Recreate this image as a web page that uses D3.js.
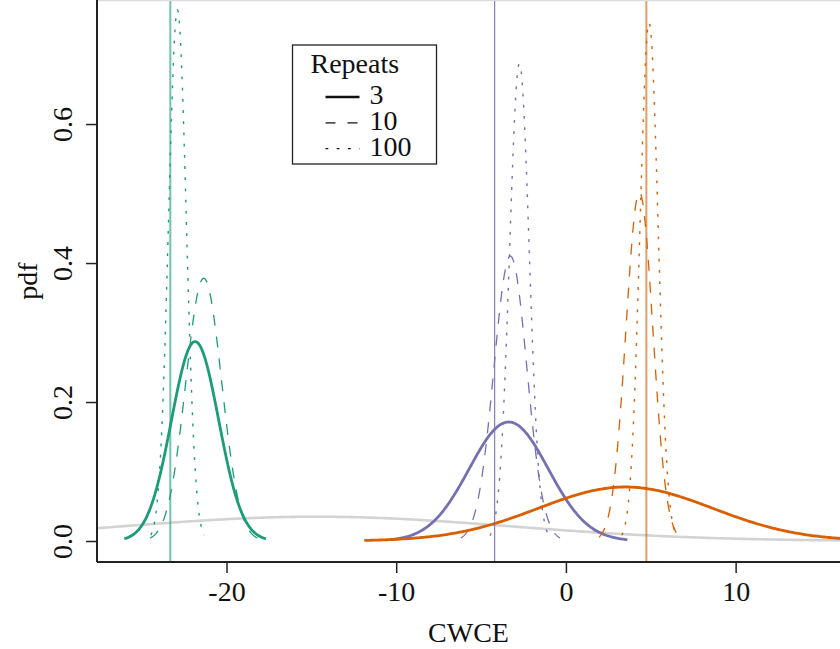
<!DOCTYPE html>
<html>
<head>
<meta charset="utf-8">
<script src="https://cdn.jsdelivr.net/npm/d3@7"></script>
<style>
	body { margin: 0; background: #fff; }
	svg text { font-family: "Liberation Serif", "Times New Roman", serif; fill: #111; }
</style>
</head>
<body>
<div id="graphic"></div>
<script>
// Dark2 colours for the three methods
const seriesColour = ["#1b9e77", "#7570b3", "#d95f02"];

// normal densities, one entry per colour
const means3 = [-21.85, -3.37, 3.51];
const sds3 = [1.39, 2.33, 5.13];
const means10 = [-21.34, -3.27, 4.33];
const sds10 = [1.055, 0.973, 0.795];
const means100 = [-22.89, -2.74, 4.90];
const sds100 = [0.522, 0.581, 0.535];

// vertical reference lines
const refLines = [-23.31, -4.20, 4.74];

// wide grey density
const greyMean = -14.7;
const greySd = 11.4;

const repeats = ["3", "10", "100"];
const xTicks = [-20, -10, 0, 10];
const yTicks = [0, 0.2, 0.4, 0.6];

const width = 840, height = 649;
const margin = { left: 97, right: 0, top: 0, bottom: 87 };
const chart_width = width - margin.left - margin.right;
const chart_height = height - margin.top - margin.bottom;

const x = d3.scaleLinear().domain([-27.63, 16.15]).range([0, chart_width]);
const y = d3.scaleLinear().domain([-0.0302, 0.7785]).range([chart_height, 0]);

const dashes = { "3": null, "10": "11,11", "100": "2.8,8.4" };
const widths = { "3": 2.8, "10": 1.3, "100": 1.4 };

function dnorm(v, m, s) {
	return Math.exp(-0.5 * ((v - m) / s) ** 2) / (s * Math.sqrt(2 * Math.PI));
}

function curve(m, s, lo, hi) {
	return d3.range(0, 301).map(i => {
		const v = lo + (hi - lo) * i / 300;
		return [v, dnorm(v, m, s)];
	});
}

const line = d3.line().x(d => x(d[0])).y(d => y(d[1]));

const svg = d3.select("#graphic").append("svg")
	.attr("width", width).attr("height", height)
	.append("g")
	.attr("transform", `translate(${margin.left},${margin.top})`);

svg.append("clipPath").attr("id", "clip")
	.append("rect").attr("width", chart_width).attr("height", chart_height);

const plot = svg.append("g").attr("clip-path", "url(#clip)");

// grey curve
plot.append("path")
	.attr("d", line(curve(greyMean, greySd, -30, 20)))
	.attr("fill", "none")
	.attr("stroke", "#d3d3d3")
	.attr("stroke-width", 2.6);

// build series table from the arrays
const series = [];
seriesColour.forEach((c, i) => {
	series.push({ rep: "3", colour: c, m: means3[i], s: sds3[i] });
	series.push({ rep: "10", colour: c, m: means10[i], s: sds10[i] });
	series.push({ rep: "100", colour: c, m: means100[i], s: sds100[i] });
});

plot.selectAll(".dens")
	.data(series)
	.join("path")
	.attr("class", "dens")
	.attr("d", d => line(curve(d.m, d.s, d.m - 3 * d.s, d.m + 3 * d.s)))
	.attr("fill", "none")
	.attr("stroke", d => d.colour)
	.attr("stroke-width", d => widths[d.rep])
	.attr("stroke-dasharray", d => dashes[d.rep]);

// reference lines
plot.selectAll(".ref")
	.data(refLines)
	.join("line")
	.attr("class", "ref")
	.attr("x1", d => x(d)).attr("x2", d => x(d))
	.attr("y1", 0).attr("y2", chart_height)
	.attr("stroke", (d, i) => seriesColour[i])
	.attr("stroke-width", (d, i) => i == 1 ? 1.2 : 2)
	.attr("stroke-opacity", (d, i) => i == 1 ? 0.9 : 0.62);

// box top edge (light)
svg.append("line")
	.attr("x1", 0).attr("x2", chart_width)
	.attr("y1", 0.5).attr("y2", 0.5)
	.attr("stroke", "#dcdcdc").attr("stroke-width", 1.5);

// axes
const xAxis = svg.append("g")
	.attr("transform", `translate(0,${chart_height})`)
	.call(d3.axisBottom(x).tickValues(xTicks).tickSize(11).tickPadding(8).tickFormat(d3.format("d")));
const yAxis = svg.append("g")
	.call(d3.axisLeft(y).tickValues(yTicks).tickSize(11).tickFormat(d3.format(".1f")));

[xAxis, yAxis].forEach(a => {
	a.select(".domain").remove();
	a.selectAll(".tick line").attr("stroke", "#222").attr("stroke-width", 1.5);
});

svg.append("line")
	.attr("x1", 0).attr("x2", chart_width)
	.attr("y1", chart_height).attr("y2", chart_height)
	.attr("stroke", "#222").attr("stroke-width", 2);
svg.append("line")
	.attr("x1", 0).attr("x2", 0)
	.attr("y1", 0).attr("y2", chart_height)
	.attr("stroke", "#222").attr("stroke-width", 2);

xAxis.selectAll(".tick text")
	.attr("font-size", 28)
	.attr("dy", null)
	.attr("y", 39)
	.text(d => d < 0 ? "-" + Math.abs(d) : d);

yAxis.selectAll(".tick text")
	.attr("font-size", 28)
	.attr("x", null).attr("dy", null)
	.attr("text-anchor", "middle")
	.attr("transform", `translate(${72 - margin.left},0) rotate(-90)`);

// axis titles
svg.append("text")
	.attr("x", chart_width / 2).attr("y", 642)
	.attr("text-anchor", "middle")
	.attr("font-size", 28)
	.text("CWCE");

svg.append("text")
	.attr("transform", `translate(${37 - margin.left},${chart_height / 2}) rotate(-90)`)
	.attr("text-anchor", "middle")
	.attr("font-size", 28)
	.text("pdf");

// legend
const legend = svg.append("g").attr("transform", `translate(${292.5 - margin.left},45)`);
legend.append("rect")
	.attr("width", 144).attr("height", 119)
	.attr("fill", "#fff").attr("stroke", "#222").attr("stroke-width", 1.3);
legend.append("text")
	.attr("x", 18).attr("y", 28)
	.attr("font-size", 28)
	.text("Repeats");

const item = legend.selectAll(".item")
	.data(repeats)
	.join("g")
	.attr("class", "item")
	.attr("transform", (d, i) => `translate(0,${59 + i * 25.8})`);

item.append("line")
	.attr("x1", 33).attr("x2", 67)
	.attr("y1", -7).attr("y2", -7)
	.attr("stroke", "#111")
	.attr("stroke-width", d => widths[d] == 2.8 ? 2.6 : 1.3)
	.attr("stroke-dasharray", d => d == "10" ? "10,12" : d == "100" ? "2.8,8.4" : null);

item.append("text")
	.attr("x", 77).attr("y", 0)
	.attr("font-size", 28)
	.text(d => d);
</script>
</body>
</html>
